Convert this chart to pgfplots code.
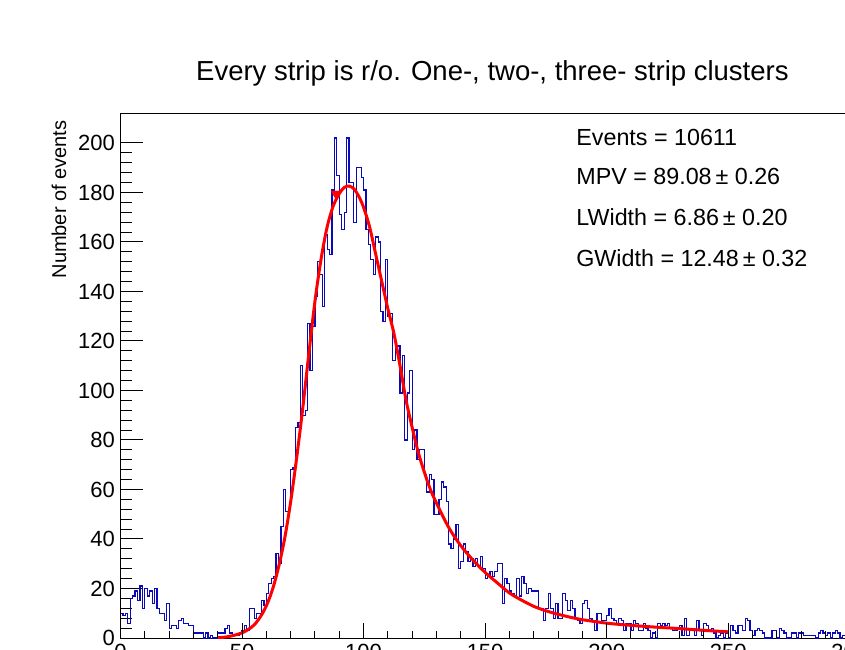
\documentclass[border=0pt]{standalone}
\usepackage{fontspec}
\setmainfont{Liberation Sans}
\usepackage{pgfplots}
\pgfplotsset{compat=1.18}
\definecolor{histblue}{RGB}{10,10,185}
\definecolor{fitred}{RGB}{255,0,0}
\begin{document}
\begin{tikzpicture}
\useasboundingbox (0,0) rectangle (845pt,649pt);
\clip (0,0) rectangle (845pt,649pt);
\begin{axis}[
  at={(120.5pt,11pt)}, anchor=south west, scale only axis,
  width=729.2pt, height=524pt,
  xmin=0, xmax=300, ymin=0, ymax=211.7,
  axis line style={line width=1pt, black},
  tick align=inside,
  xtick=\empty,
  ytick={0,20,...,200}, minor y tick num=4,
  ytick pos=left,
  major tick length=22pt, minor tick length=11pt,
  every tick/.style={line width=1pt, black},
  yticklabel style={font=\fontsize{22}{22}\selectfont, inner sep=0pt, xshift=-5.5pt},
  /pgf/number format/assume math mode=true,
]
\addplot[const plot mark left, histblue, line width=1.2pt, mark=none] coordinates {
(0,10)(1,9)(2,10)(3,6)(4,16)(5,17)(6,19)(7,15)(8,21)(9,12)
(10,20)(11,17)(12,19)(13,14)(14,20)(15,12)(16,10)(17,10)(18,7)(19,14)
(20,4)(21,5)(22,5)(23,4)(24,7)(25,8)(26,6)(27,6)(28,5)(29,5)
(30,2)(31,2)(32,2)(33,2)(34,0)(35,2)(36,0)(37,1)(38,0)(39,0)
(40,2)(41,2)(42,2)(43,4)(44,5)(45,2)(46,1)(47,1)(48,1)(49,2)
(50,3)(51,5)(52,3)(53,12)(54,12)(55,8)(56,10)(57,10)(58,15)(59,13)
(60,18)(61,22)(62,24)(63,25)(64,34)(65,30)(66,45)(67,60)(68,51)(69,52)
(70,68)(71,69)(72,85)(73,87)(74,110)(75,90)(76,92)(77,127)(78,108)(79,126)
(80,138)(81,152)(82,147)(83,134)(84,163)(85,157)(86,155)(87,181)(88,202)(89,187)
(90,171)(91,165)(92,172)(93,202)(94,184)(95,184)(96,168)(97,190)(98,190)(99,186)
(100,181)(101,165)(102,159)(103,153)(104,147)(105,162)(106,160)(107,132)(108,128)(109,153)
(110,130)(111,131)(112,112)(113,118)(114,118)(115,99)(116,114)(117,80)(118,99)(119,108)
(120,76)(121,84)(122,72)(123,76)(124,76)(125,66)(126,59)(127,66)(128,64)(129,50)
(130,50)(131,56)(132,63)(133,61)(134,55)(135,38)(136,36)(137,40)(138,46)(139,28)
(140,31)(141,38)(142,35)(143,31)(144,32)(145,29)(146,32)(147,29)(148,33)(149,28)
(150,24)(151,25)(152,27)(153,25)(154,27)(155,30)(156,30)(157,14)(158,24)(159,22)
(160,19)(161,18)(162,17)(163,24)(164,17)(165,25)(166,22)(167,18)(168,20)(169,19)
(170,19)(171,19)(172,12)(173,12)(174,7)(175,12)(176,18)(177,12)(178,8)(179,14)
(180,8)(181,8)(182,18)(183,15)(184,11)(185,15)(186,12)(187,8)(188,7)(189,6)
(190,14)(191,15)(192,12)(193,8)(194,7)(195,3)(196,10)(197,10)(198,7)(199,7)
(200,9)(201,12)(202,8)(203,7)(204,6)(205,8)(206,7)(207,3)(208,6)(209,6)
(210,3)(211,7)(212,6)(213,3)(214,3)(215,6)(216,4)(217,3)(218,0)(219,2)
(220,0)(221,6)(222,5)(223,6)(224,5)(225,6)(226,4)(227,3)(228,3)(229,4)
(230,5)(231,1)(232,8)(233,1)(234,4)(235,4)(236,1)(237,7)(238,3)(239,1)
(240,6)(241,5)(242,3)(243,4)(244,2)(245,0)(246,1)(247,2)(248,0)(249,2)
(250,0)(251,5)(252,3)(253,2)(254,5)(255,5)(256,3)(257,8)(258,7)(259,3)
(260,1)(261,3)(262,4)(263,3)(264,2)(265,0)(266,0)(267,0)(268,3)(269,3)
(270,0)(271,4)(272,3)(273,2)(274,0)(275,0)(276,2)(277,2)(278,0)(279,2)
(280,2)(281,1)(282,1)(283,1)(284,1)(285,1)(286,0)(287,2)(288,3)(289,2)
(290,1)(291,2)(292,0)(293,2)(294,3)(295,2)(296,0)(297,1)(298,1)(299,1)
(300,1)
};
\addplot[fitred, line width=3pt, smooth, mark=none] coordinates {
(40,0.1)(42.5,0.3)(45,0.7)(47.5,1.3)(50,2.1)(52.5,3.4)(55,5.3)(57.5,8.5)
(60,13)(62.5,19.5)(65,28.5)(67.5,40)(70,55)(72.5,73)(75,93)(77.5,115)
(80,136)(82.5,153)(85,166)(87.5,174.5)(90,179.5)(92,182)(94,182.6)(96,181.5)
(98,178.5)(100,174)(102.5,166)(105,155)(107.5,144)(110,133)(112.5,123)(115,110)
(117.5,96)(120,85)(122.5,75)(125,67)(127.5,60)(130,54.5)(135,44.7)(140,37.3)
(145,31.5)(150,26.5)(155,22.3)(160,18.2)(165,15.3)(170,12.8)(175,11)(180,9.6)
(185,8.4)(190,7.4)(200,6.0)(210,5.1)(220,4.4)(230,3.8)(240,3.1)(250,2.5)
};
\addplot[only marks, mark=triangle*, mark size=5.5pt, mark options={rotate=180, fill=fitred, draw=fitred}] coordinates {(88.6,179.5)};
\end{axis}
\begin{axis}[
  at={(120.5pt,11pt)}, anchor=south west, scale only axis,
  width=729.2pt, height=524pt,
  xmin=0, xmax=300, ymin=0, ymax=211.7,
  hide y axis,
  axis line style={draw=none},
  tick align=inside,
  xtick={0,50,...,300}, minor x tick num=4,
  xtick pos=left,
  major tick length=15pt, minor tick length=7.5pt,
  every tick/.style={line width=1pt, black},
  xticklabel style={font=\fontsize{22}{22}\selectfont, inner sep=0pt, yshift=-6pt},
  /pgf/number format/assume math mode=true,
  clip=false,
]
\addplot[draw=none, mark=none] coordinates {(0,0)(300,0)};
\node[font=\fontsize{27.5}{27.5}\selectfont, anchor=base] at (axis description cs:0.510,1.064) {Every strip is r/o. One-, two-, three- strip clusters};
\node[font=\fontsize{20}{20}\selectfont, rotate=90, anchor=base east] at (axis description cs:-0.0747,0.9943) {Number of events};
\node[font=\fontsize{23.3}{23.3}\selectfont, anchor=base west] at (axis description cs:0.6203,0.9408) {Events = 10611};
\node[font=\fontsize{23.3}{23.3}\selectfont, anchor=base west] at (axis description cs:0.6203,0.8662) {MPV = 89.08\,± 0.26};
\node[font=\fontsize{23.3}{23.3}\selectfont, anchor=base west] at (axis description cs:0.6203,0.7879) {LWidth = 6.86\,± 0.20};
\node[font=\fontsize{23.3}{23.3}\selectfont, anchor=base west] at (axis description cs:0.6203,0.7082) {GWidth = 12.48\,± 0.32};
\end{axis}
\end{tikzpicture}
\end{document}
